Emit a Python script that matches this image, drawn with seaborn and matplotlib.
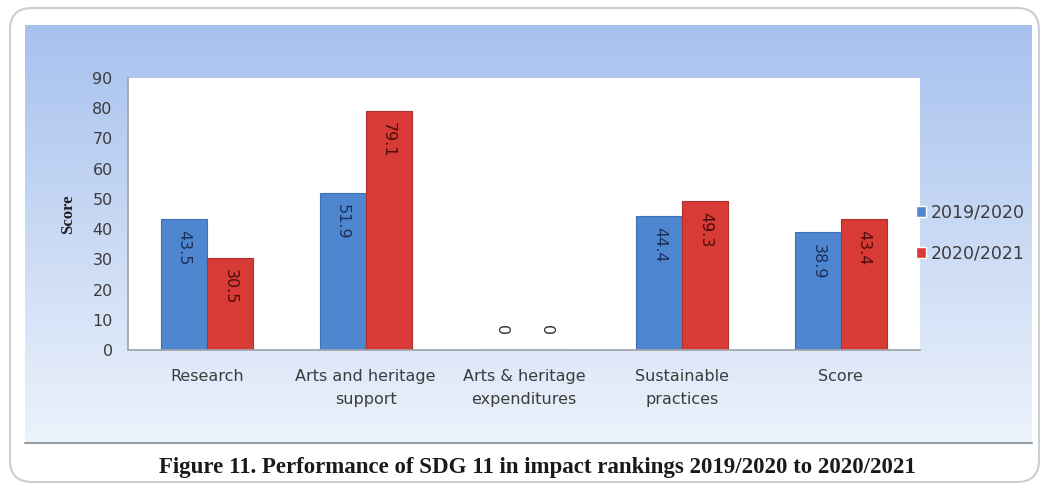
#!/usr/bin/env python3

import numpy as np
import pandas as pd
import seaborn as sns
import matplotlib.pyplot as plt
from matplotlib.patches import FancyBboxPatch, Patch

categories = ["Research", "Arts and heritage\nsupport", "Arts & heritage\nexpenditures",
              "Sustainable\npractices", "Score"]
years = ["2019/2020", "2020/2021"]
scores_1920 = [43.5, 51.9, 0, 44.4, 38.9]
scores_2021 = [30.5, 79.1, 0, 49.3, 43.4]
labels_1920 = ["43.5", "51.9", "0", "44.4", "38.9"]
labels_2021 = ["30.5", "79.1", "0", "49.3", "43.4"]

colors = ["#4f86d0", "#d83b35"]
edges = ["#3f70b4", "#b0302b"]
label_colors = ["#1c2f5a", "#4a0d0b"]

df = pd.DataFrame({
    "category": categories * 2,
    "year": [years[0]] * 5 + [years[1]] * 5,
    "score": scores_1920 + scores_2021,
})

sns.set_theme(style="white")
plt.rcParams['font.family'] = ['DejaVu Sans']

W, H = 1047, 488
fig = plt.figure(figsize=(W / 100, H / 100), dpi=100)
fig.patch.set_facecolor("white")

# background: rounded frame + blue gradient panel
bg = fig.add_axes([0, 0, 1, 1], zorder=-10)
bg.set_xlim(0, W)
bg.set_ylim(H, 0)
bg.axis("off")
frame = FancyBboxPatch((10, 8), W - 18, H - 14, boxstyle="round,pad=0,rounding_size=22",
                       facecolor="white", edgecolor="#c9cdd4", lw=1.5)
bg.add_patch(frame)
top = np.array([0.655, 0.757, 0.933])
bot = np.array([0.925, 0.950, 0.985])
t = np.linspace(0, 1, 200)[:, None]
grad = (top * (1 - t) + bot * t)[:, None, :]
bg.imshow(grad, extent=(25, 1032, 442, 25), aspect="auto", zorder=1)
bg.plot([25, 1032], [443, 443], color="#9a9ea6", lw=1.5, zorder=2)
bg.text(537, 467, "Figure 11. Performance of SDG 11 in impact rankings 2019/2020 to 2020/2021",
        ha="center", va="center", fontsize=16.5, fontweight="bold",
        family=["Liberation Serif"], color="#1a1a1a", zorder=3)

ax = fig.add_axes([128 / W, 1 - 350 / H, (920 - 128) / W, (350 - 78) / H])
sns.barplot(data=df, x="category", y="score", hue="year", palette=colors,
            width=0.58, gap=0, legend=False, ax=ax, saturation=1)
for cont, ec in zip(ax.containers, edges):
    for bar in cont:
        bar.set_edgecolor(ec)
        bar.set_linewidth(0.8)
ax.set_facecolor("white")
ax.set_ylim(0, 90)
ax.set_yticks(range(0, 91, 10))
ax.set_xlim(-0.5, 4.5)
ax.set_xlabel("")
ax.set_ylabel("Score", fontsize=12, fontweight="bold", family=["Liberation Serif"],
              color="#222222", labelpad=12)
for s in ["top", "right"]:
    ax.spines[s].set_visible(False)
ax.spines["left"].set_color("#a0a4aa")
ax.spines["bottom"].set_color("#a0a4aa")
ax.tick_params(axis="y", length=5, color="#a0a4aa", labelsize=11.5, labelcolor="#3c3c3c", pad=6)
ax.tick_params(axis="x", length=0, labelsize=11.5, labelcolor="#3c3c3c", pad=14)
for lab in ax.get_xticklabels():
    lab.set_linespacing(1.6)

for cont, labs, lc in zip(ax.containers, [labels_1920, labels_2021], label_colors):
    for bar, lab in zip(cont, labs):
        x = bar.get_x() + bar.get_width() / 2
        v = bar.get_height()
        if v > 0:
            ax.annotate(lab, (x, v), xytext=(0, -8), textcoords="offset points",
                        rotation=-90, ha="center", va="top", fontsize=11.5, color=lc)
        else:
            ax.annotate(lab, (x, 0), xytext=(0, 14), textcoords="offset points",
                        rotation=-90, ha="center", va="center", fontsize=11.5, color="#333333")

handles = [Patch(facecolor=c, label=y) for c, y in zip(colors, years)]
fig.legend(handles=handles, loc="center left", bbox_to_anchor=(900 / W, 1 - 233 / H),
           frameon=False, fontsize=12.5, handlelength=0.6, handleheight=0.6,
           handletextpad=0.3, labelspacing=1.3, labelcolor="#3c3c3c")

fig.savefig("out.png", dpi=100)
